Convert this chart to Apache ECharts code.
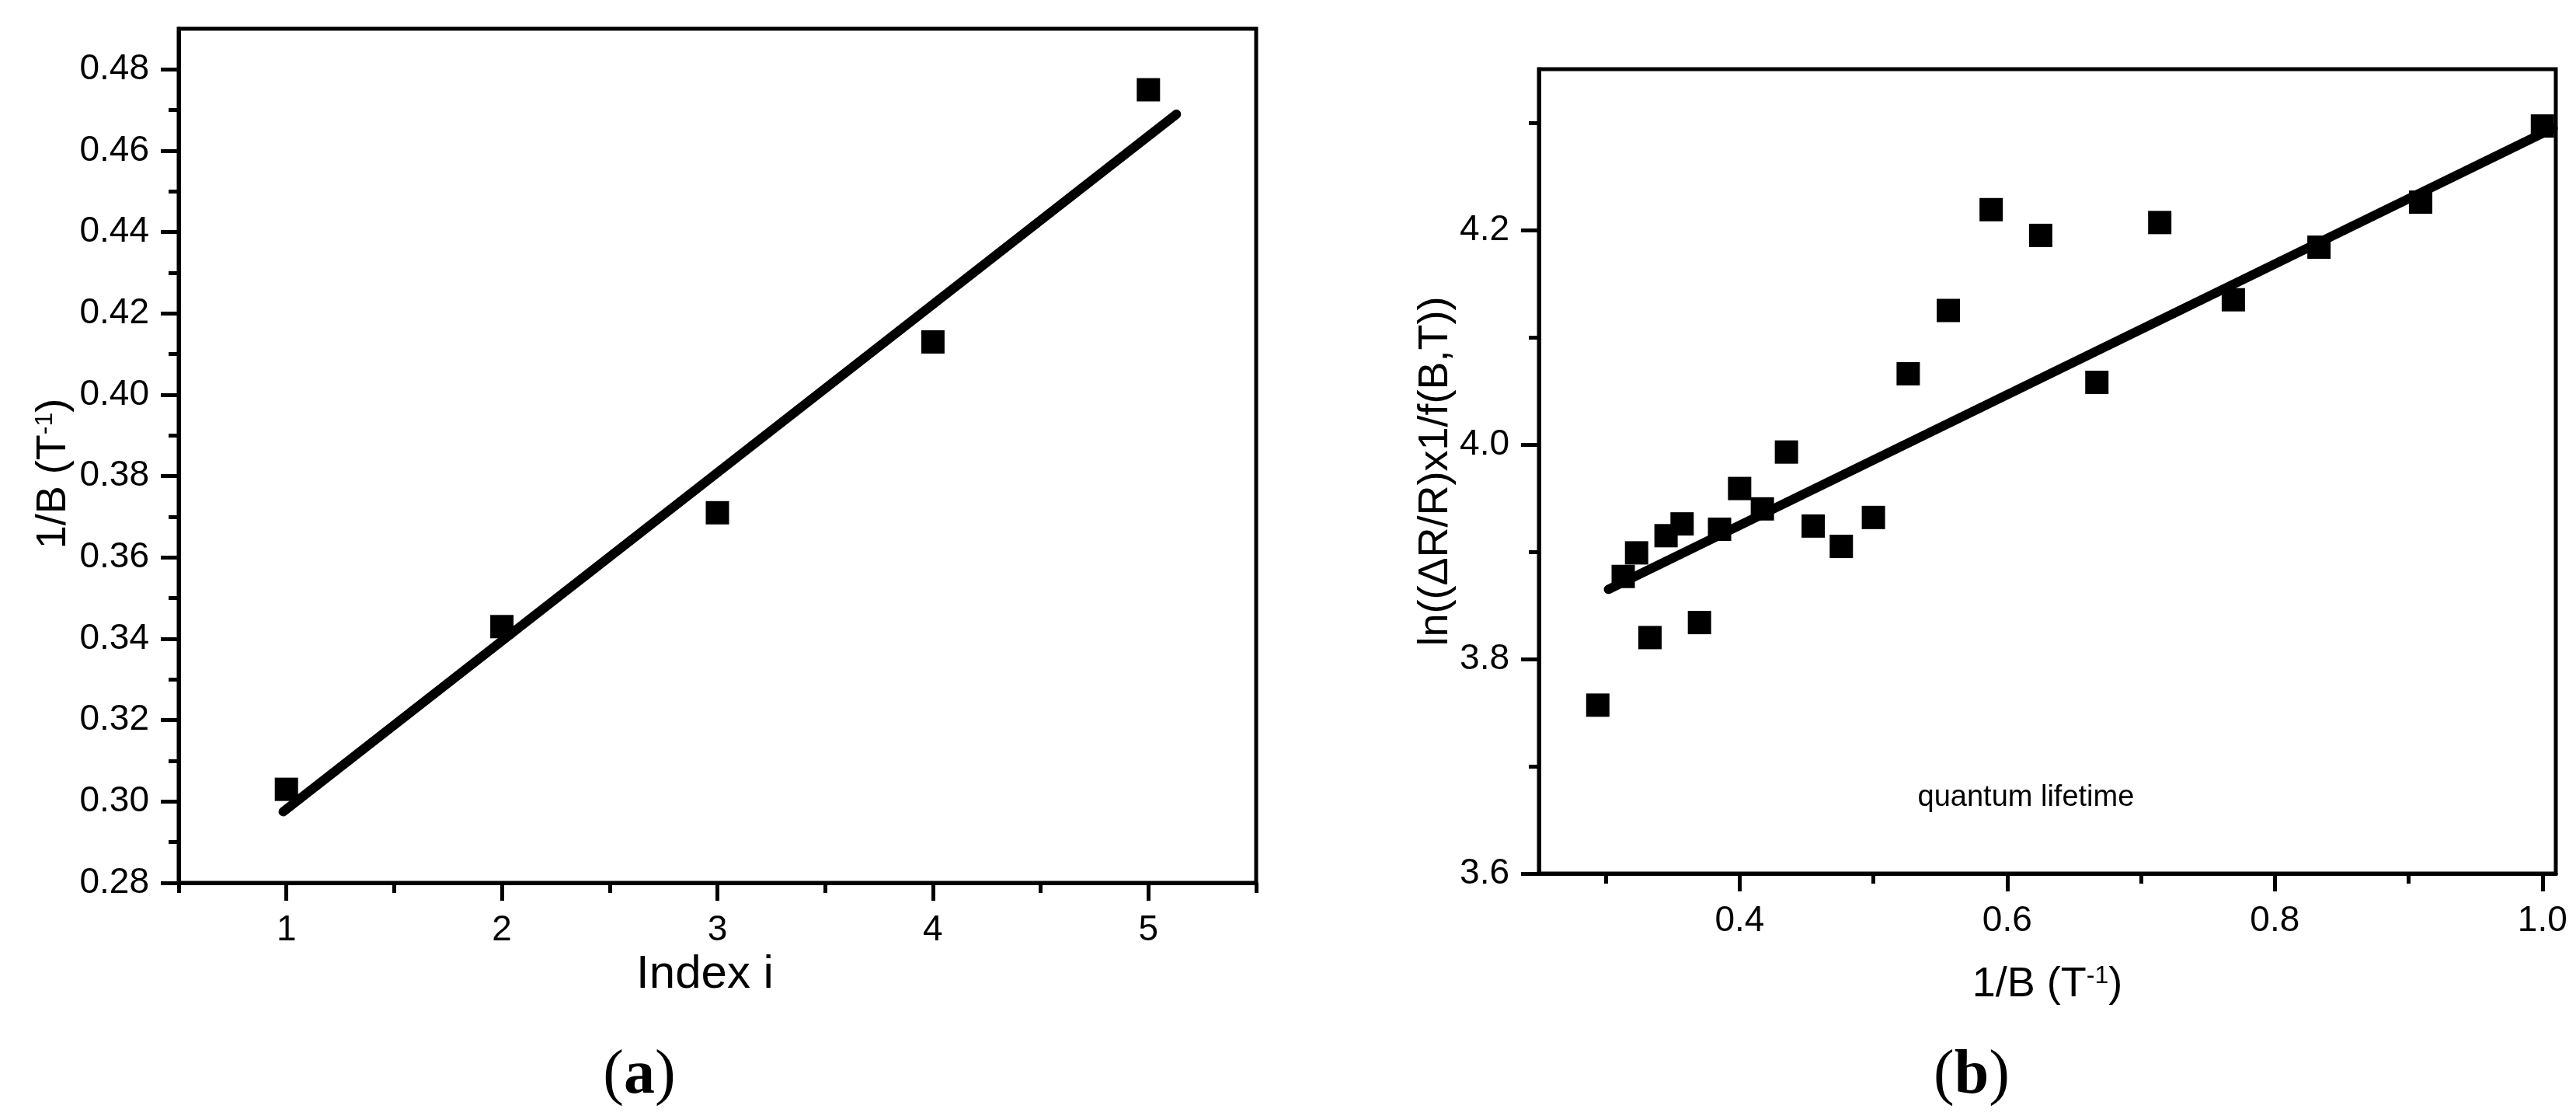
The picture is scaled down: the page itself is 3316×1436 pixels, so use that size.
<!DOCTYPE html>
<html>
<head>
<meta charset="utf-8">
<title>1/B vs index and quantum lifetime</title>
<script src="https://cdn.jsdelivr.net/npm/echarts@6/dist/echarts.min.js"></script>
<style>
  html, body { margin: 0; padding: 0; background: #fff; }
  #main { width: 3316px; height: 1436px; }
</style>
</head>
<body>
<div id="main"></div>
<script type="text/javascript">
// ---- panel (a): 1/B at each index ----
var indexI = [1, 2, 3, 4, 5];
var invBAtIndex = [0.303, 0.343, 0.371, 0.413, 0.475];
var fitA = [[0.985, 0.2975], [5.13, 0.469]];

var xMajorA = [1, 2, 3, 4, 5];
var xMinorA = [0.5, 1.5, 2.5, 3.5, 4.5, 5.5];
var yMajorA = [0.28, 0.30, 0.32, 0.34, 0.36, 0.38, 0.40, 0.42, 0.44, 0.46, 0.48];
var yMinorA = [0.29, 0.31, 0.33, 0.35, 0.37, 0.39, 0.41, 0.43, 0.45, 0.47];

// ---- panel (b): ln amplitude vs 1/B ----
var invB = [0.294, 0.313, 0.323, 0.333, 0.345, 0.357, 0.370, 0.385, 0.400, 0.417, 0.435, 0.455,
            0.476, 0.500, 0.526, 0.556, 0.588, 0.625, 0.667, 0.714, 0.769, 0.833, 0.909, 1.000];
var lnAmp = [3.757, 3.877, 3.899, 3.820, 3.915, 3.926, 3.834, 3.921, 3.959, 3.940, 3.993, 3.924,
             3.905, 3.932, 4.066, 4.125, 4.219, 4.195, 4.058, 4.207, 4.135, 4.184, 4.226, 4.297];
var fitB = [[0.302, 3.865], [1.008, 4.295]];
var noteB = [[0.614, 3.671]];

var xMajorB = [0.4, 0.6, 0.8, 1.0];
var xMinorB = [0.3, 0.5, 0.7, 0.9];
var yMajorB = [3.6, 3.8, 4.0, 4.2];
var yMinorB = [3.7, 3.9, 4.1, 4.3];

var FONT = 'Liberation Sans, Arial, sans-serif';
var BLACK = '#000';

function zip(xs, ys) {
  return xs.map(function (x, i) { return [x, ys[i]]; });
}

function nameStyle(size, pad) {
  return {
    fontFamily: FONT, fontSize: size, color: BLACK, padding: pad || 0,
    rich: { sup: { fontFamily: FONT, fontSize: 32, color: BLACK, verticalAlign: 'top', padding: [0, 0, 18, 0] } }
  };
}

// main axis: line, long ticks, labels
function mainAxis(grid, pos, min, max, major, digits, name, gap, nstyle) {
  return {
    type: 'value', gridIndex: grid, position: pos, min: min, max: max,
    name: name, nameLocation: 'middle', nameGap: gap, nameTextStyle: nstyle,
    axisLine: { show: true, onZero: false, lineStyle: { color: BLACK, width: 5 } },
    axisTick: { show: true, customValues: major, length: 23, lineStyle: { color: BLACK, width: 5 } },
    axisLabel: {
      show: true, customValues: major, margin: 38, fontSize: 46, fontFamily: FONT, color: BLACK,
      formatter: function (v) { return v.toFixed(digits); }
    },
    splitLine: { show: false }
  };
}

// overlay axis: only the short minor ticks
function minorAxis(grid, pos, min, max, minor) {
  return {
    type: 'value', gridIndex: grid, position: pos, min: min, max: max,
    axisLine: { show: false, onZero: false },
    axisTick: { show: true, customValues: minor, length: 13, lineStyle: { color: BLACK, width: 5 } },
    axisLabel: { show: false },
    splitLine: { show: false }
  };
}

var chart = echarts.init(document.getElementById('main'), null, { renderer: 'canvas' });

var option = {
  backgroundColor: '#fff',
  animation: false,
  grid: [
    { left: 230, top: 37, width: 1387, height: 1099, show: true, borderColor: BLACK, borderWidth: 5,
      backgroundColor: 'transparent', containLabel: false, outerBoundsMode: 'none' },
    { left: 1981, top: 89, width: 1309, height: 1035, show: true, borderColor: BLACK, borderWidth: 5,
      backgroundColor: 'transparent', containLabel: false, outerBoundsMode: 'none' }
  ],
  xAxis: [
    mainAxis(0, 'bottom', 0.5, 5.5, xMajorA, 0, 'Index i', 86, nameStyle(60, [0, 32, 0, 0])),
    minorAxis(0, 'bottom', 0.5, 5.5, xMinorA),
    mainAxis(1, 'bottom', 0.25, 1.01, xMajorB, 1, '1/B (T{sup|-1})', 116, nameStyle(54)),
    minorAxis(1, 'bottom', 0.25, 1.01, xMinorB)
  ],
  yAxis: [
    mainAxis(0, 'left', 0.28, 0.49, yMajorA, 2, '1/B (T{sup|-1})', 134, nameStyle(54, [0, 46, 0, 0])),
    minorAxis(0, 'left', 0.28, 0.49, yMinorA),
    mainAxis(1, 'left', 3.6, 4.35, yMajorB, 1, 'ln((\u0394R/R)x1/f(B,T))', 104, nameStyle(54)),
    minorAxis(1, 'left', 3.6, 4.35, yMinorB)
  ],
  series: [
    {
      type: 'line', xAxisIndex: 0, yAxisIndex: 0, data: fitA,
      showSymbol: false, symbol: 'none', silent: true,
      lineStyle: { color: BLACK, width: 12, cap: 'round', opacity: 1 }
    },
    {
      type: 'scatter', xAxisIndex: 0, yAxisIndex: 0, data: zip(indexI, invBAtIndex),
      symbol: 'rect', symbolSize: 30, itemStyle: { color: BLACK, opacity: 1 }
    },
    {
      type: 'line', xAxisIndex: 2, yAxisIndex: 2, data: fitB,
      showSymbol: false, symbol: 'none', silent: true,
      lineStyle: { color: BLACK, width: 12, cap: 'round', opacity: 1 }
    },
    {
      type: 'scatter', xAxisIndex: 2, yAxisIndex: 2, data: zip(invB, lnAmp),
      symbol: 'rect', symbolSize: 30, itemStyle: { color: BLACK, opacity: 1 }
    },
    {
      // text note inside panel (b)
      type: 'scatter', xAxisIndex: 2, yAxisIndex: 2, data: noteB,
      symbolSize: 0, silent: true, itemStyle: { opacity: 1 },
      label: {
        show: true, position: 'inside', formatter: 'quantum lifetime',
        fontFamily: FONT, fontSize: 38, color: BLACK
      }
    }
  ],
  graphic: [
    {
      type: 'text', x: 823, y: 1385,
      style: {
        text: '{p|(}{b|a}{p|)}', textAlign: 'center', textVerticalAlign: 'middle',
        rich: {
          p: { fontFamily: 'Liberation Serif, serif', fontSize: 80, fill: BLACK },
          b: { fontFamily: 'Liberation Serif, serif', fontSize: 80, fontWeight: 'bold', fill: BLACK }
        }
      }
    },
    {
      type: 'text', x: 2538, y: 1385,
      style: {
        text: '{p|(}{b|b}{p|)}', textAlign: 'center', textVerticalAlign: 'middle',
        rich: {
          p: { fontFamily: 'Liberation Serif, serif', fontSize: 80, fill: BLACK },
          b: { fontFamily: 'Liberation Serif, serif', fontSize: 80, fontWeight: 'bold', fill: BLACK }
        }
      }
    }
  ]
};

chart.setOption(option);
</script>
</body>
</html>
